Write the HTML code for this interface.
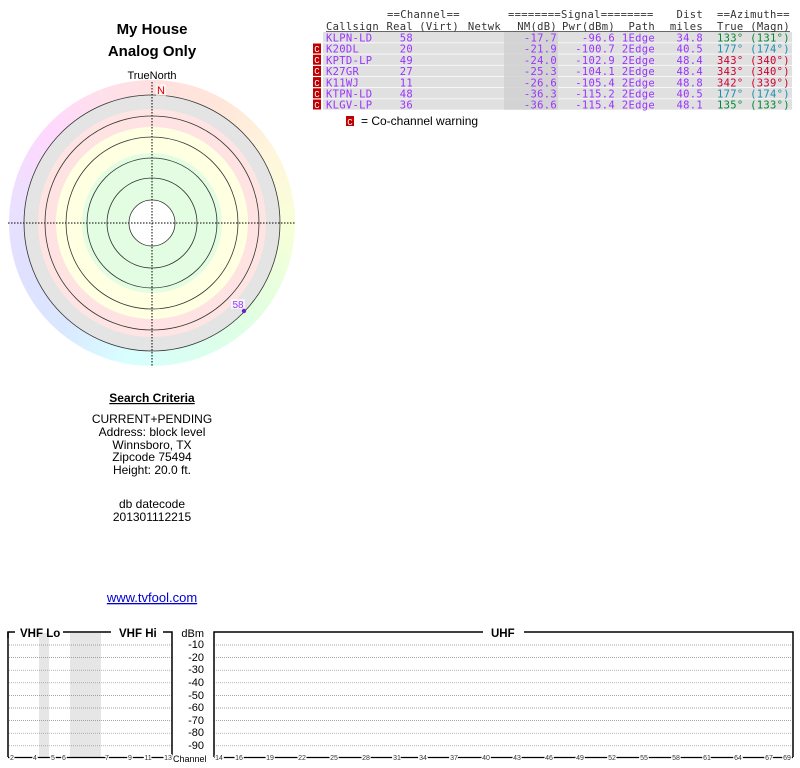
<!DOCTYPE html>
<html><head><meta charset="utf-8"><style>
body{margin:0;background:#fff;width:800px;height:768px;overflow:hidden;position:relative}
#ring{position:absolute;left:9px;top:80px;width:286px;height:286px;border-radius:50%;
background:conic-gradient(#ffe0e0 0deg,#ffe6da 30deg,#fff6dc 60deg,#f8ffd8 90deg,#e2ffe0 130deg,#daffee 160deg,#d8ffff 190deg,#dae8ff 220deg,#e0e0ff 250deg,#ece0ff 280deg,#ffd8ff 310deg,#ffe0ea 340deg,#ffe0e0 360deg)}
svg{position:absolute;left:0;top:0}
.m{font-family:"DejaVu Sans Mono","Liberation Mono",monospace;font-size:10.5px;letter-spacing:0.3px}
</style></head><body>
<div id="ring"></div>
<svg width="800" height="768" font-family="Liberation Sans, sans-serif">
<circle cx="152" cy="223" r="128" fill="#e4e4e4" stroke="#333" stroke-width="0.8"/>
<circle cx="152" cy="223" r="114" fill="#ffe4e4"/>
<circle cx="152" cy="223" r="107" fill="#ffe2e2" stroke="#333" stroke-width="0.8"/>
<circle cx="152" cy="223" r="96" fill="#ffffe2"/>
<circle cx="152" cy="223" r="86" fill="#ffffe2" stroke="#333" stroke-width="0.8"/>
<circle cx="152" cy="223" r="70" fill="#e2fde2"/>
<circle cx="152" cy="223" r="65" fill="#e2fde2" stroke="#333" stroke-width="0.8"/>
<circle cx="152" cy="223" r="45" fill="#e2fde2" stroke="#333" stroke-width="0.8"/>
<circle cx="152" cy="223" r="23" fill="#fff" stroke="#333" stroke-width="0.8"/>
<line x1="8" y1="223" x2="296" y2="223" stroke="#000" stroke-dasharray="1.5,1.5"/>
<line x1="152" y1="82" x2="152" y2="366" stroke="#000" stroke-dasharray="1.5,1.5"/>
<rect x="156" y="84" width="10" height="12" fill="#fff" opacity="0.6"/>
<text x="161" y="94" font-size="11" fill="#e00000" text-anchor="middle">N</text>
<rect x="231" y="299" width="14" height="10" fill="#fff" opacity="0.6"/>
<text x="238" y="308" font-size="10" fill="#9933ff" text-anchor="middle">58</text>
<circle cx="244" cy="311" r="2.2" fill="#7020d0"/>
<text x="152" y="34" font-size="15" font-weight="bold" text-anchor="middle">My House</text>
<text x="152" y="56" font-size="15" font-weight="bold" text-anchor="middle">Analog Only</text>
<text x="152" y="79" font-size="11" text-anchor="middle">TrueNorth</text>
<g font-size="12" text-anchor="middle">
<text x="152" y="402" font-weight="bold" text-decoration="underline">Search Criteria</text>
<text x="152" y="423">CURRENT+PENDING</text>
<text x="152" y="436">Address: block level</text>
<text x="152" y="449">Winnsboro, TX</text>
<text x="152" y="461">Zipcode 75494</text>
<text x="152" y="474">Height: 20.0 ft.</text>
<text x="152" y="508">db datecode</text>
<text x="152" y="521">201301112215</text>
<text x="152" y="602" font-size="13" fill="#0000cc" text-decoration="underline">www.tvfool.com</text>
</g>
<g fill="#e0e0e0">
<rect x="323" y="32" width="469" height="10.5"/><rect x="323" y="43.2" width="469" height="10.5"/><rect x="323" y="54.4" width="469" height="10.5"/><rect x="323" y="65.6" width="469" height="10.5"/><rect x="323" y="76.8" width="469" height="10.5"/><rect x="323" y="88" width="469" height="10.5"/><rect x="323" y="99.2" width="469" height="10.5"/>
</g>
<rect x="504" y="32" width="54" height="77.7" fill="#cfcfcf" opacity="0.8"/>
<g fill="#c00000">
<rect x="313" y="43.5" width="8" height="10"/><rect x="313" y="54.7" width="8" height="10"/><rect x="313" y="65.9" width="8" height="10"/><rect x="313" y="77.1" width="8" height="10"/><rect x="313" y="88.3" width="8" height="10"/><rect x="313" y="99.5" width="8" height="10"/>
<rect x="346" y="116" width="8" height="10"/>
</g>
<g fill="#fff" font-size="9" font-family="Liberation Mono, monospace" text-anchor="middle">
<text x="317" y="52">C</text><text x="317" y="63">C</text><text x="317" y="74">C</text><text x="317" y="86">C</text><text x="317" y="97">C</text><text x="317" y="108">C</text><text x="350" y="125">C</text>
</g>
<text x="361" y="125" font-size="12">= Co-channel warning</text>
<g class="m" fill="#333">
<text x="387" y="18">==Channel==</text>
<text x="508" y="18">========Signal========</text>
<text x="703" y="18" text-anchor="end">Dist</text>
<text x="717" y="18">==Azimuth==</text>
<g text-anchor="end">
<text x="413" y="30">Real</text><text x="459" y="30">(Virt)</text><text x="501" y="30">Netwk</text><text x="557" y="30">NM(dB)</text><text x="615" y="30">Pwr(dBm)</text><text x="655" y="30">Path</text><text x="703" y="30">miles</text><text x="790" y="30">(Magn)</text>
</g>
<text x="326" y="30">Callsign</text><text x="717" y="30">True</text>
<line x1="326" y1="31.5" x2="790" y2="31.5" stroke="#333" stroke-width="0.8"/>
</g>
<g class="m" fill="#9933ff">
<text x="326" y="41.5">KLPN-LD</text><text x="326" y="52.7">K20DL</text><text x="326" y="63.9">KPTD-LP</text><text x="326" y="75.1">K27GR</text><text x="326" y="86.3">K11WJ</text><text x="326" y="97.5">KTPN-LD</text><text x="326" y="108.7">KLGV-LP</text>
<g text-anchor="end">
<text x="413" y="41.5">58</text><text x="413" y="52.7">20</text><text x="413" y="63.9">49</text><text x="413" y="75.1">27</text><text x="413" y="86.3">11</text><text x="413" y="97.5">48</text><text x="413" y="108.7">36</text>
<text x="557" y="41.5">-17.7</text><text x="557" y="52.7">-21.9</text><text x="557" y="63.9">-24.0</text><text x="557" y="75.1">-25.3</text><text x="557" y="86.3">-26.6</text><text x="557" y="97.5">-36.3</text><text x="557" y="108.7">-36.6</text>
<text x="615" y="41.5">-96.6</text><text x="615" y="52.7">-100.7</text><text x="615" y="63.9">-102.9</text><text x="615" y="75.1">-104.1</text><text x="615" y="86.3">-105.4</text><text x="615" y="97.5">-115.2</text><text x="615" y="108.7">-115.4</text>
<text x="655" y="41.5">1Edge</text><text x="655" y="52.7">2Edge</text><text x="655" y="63.9">2Edge</text><text x="655" y="75.1">2Edge</text><text x="655" y="86.3">2Edge</text><text x="655" y="97.5">2Edge</text><text x="655" y="108.7">2Edge</text>
<text x="703" y="41.5">34.8</text><text x="703" y="52.7">40.5</text><text x="703" y="63.9">48.4</text><text x="703" y="75.1">48.4</text><text x="703" y="86.3">48.8</text><text x="703" y="97.5">40.5</text><text x="703" y="108.7">48.1</text>
</g>
</g>
<g class="m">
<text x="717" y="41.5" fill="#008833">133° (131°)</text>
<text x="717" y="52.7" fill="#1a8fb0">177° (174°)</text>
<text x="717" y="63.9" fill="#cc0033">343° (340°)</text>
<text x="717" y="75.1" fill="#cc0033">343° (340°)</text>
<text x="717" y="86.3" fill="#cc0033">342° (339°)</text>
<text x="717" y="97.5" fill="#1a8fb0">177° (174°)</text>
<text x="717" y="108.7" fill="#008833">135° (133°)</text>
</g>
<rect x="39" y="633" width="10" height="124" fill="#e6e6e6"/>
<rect x="70" y="633" width="31" height="124" fill="#e6e6e6"/>
<g stroke="#888" stroke-width="0.7" stroke-dasharray="1,1">
<line x1="9" y1="645" x2="172" y2="645"/><line x1="9" y1="657.6" x2="172" y2="657.6"/><line x1="9" y1="670.2" x2="172" y2="670.2"/><line x1="9" y1="682.8" x2="172" y2="682.8"/><line x1="9" y1="695.4" x2="172" y2="695.4"/><line x1="9" y1="708" x2="172" y2="708"/><line x1="9" y1="720.6" x2="172" y2="720.6"/><line x1="9" y1="733.2" x2="172" y2="733.2"/><line x1="9" y1="745.8" x2="172" y2="745.8"/>
<line x1="214" y1="645" x2="792" y2="645"/><line x1="214" y1="657.6" x2="792" y2="657.6"/><line x1="214" y1="670.2" x2="792" y2="670.2"/><line x1="214" y1="682.8" x2="792" y2="682.8"/><line x1="214" y1="695.4" x2="792" y2="695.4"/><line x1="214" y1="708" x2="792" y2="708"/><line x1="214" y1="720.6" x2="792" y2="720.6"/><line x1="214" y1="733.2" x2="792" y2="733.2"/><line x1="214" y1="745.8" x2="792" y2="745.8"/>
</g>
<g stroke="#000" stroke-width="1.5" fill="none">
<polyline points="8,638 8,632 15,632"/><line x1="63" y1="632" x2="111" y2="632"/><polyline points="163,632 172,632 172,757"/><line x1="8" y1="632" x2="8" y2="757"/>
<polyline points="214,757 214,632 483,632"/><polyline points="524,632 793,632 793,757"/>
<line x1="8" y1="757.5" x2="172" y2="757.5" stroke-width="1.2"/><line x1="214" y1="757.5" x2="793" y2="757.5" stroke-width="1.2"/>
</g>
<g font-size="11.5" font-weight="bold">
<text x="20" y="637">VHF Lo</text><text x="119" y="637">VHF Hi</text><text x="491" y="637">UHF</text>
</g>
<g font-size="11" text-anchor="end">
<text x="204" y="637">dBm</text><text x="204" y="648">-10</text><text x="204" y="661">-20</text><text x="204" y="673">-30</text><text x="204" y="686">-40</text><text x="204" y="699">-50</text><text x="204" y="711">-60</text><text x="204" y="724">-70</text><text x="204" y="736">-80</text><text x="204" y="749">-90</text>
</g>
<text x="173" y="762" font-size="9">Channel</text>
<g font-size="7" text-anchor="middle" stroke="#fff" stroke-width="2.5" paint-order="stroke" fill="#333">
<text x="12" y="760">2</text><text x="35" y="760">4</text><text x="53" y="760">5</text><text x="64" y="760">6</text><text x="107" y="760">7</text><text x="130" y="760">9</text><text x="148" y="760">11</text><text x="168" y="760">13</text>
<text x="219" y="760">14</text><text x="239" y="760">16</text><text x="270" y="760">19</text><text x="302" y="760">22</text><text x="334" y="760">25</text><text x="366" y="760">28</text><text x="397" y="760">31</text><text x="423" y="760">34</text><text x="454" y="760">37</text><text x="486" y="760">40</text><text x="517" y="760">43</text><text x="549" y="760">46</text><text x="580" y="760">49</text><text x="612" y="760">52</text><text x="644" y="760">55</text><text x="676" y="760">58</text><text x="707" y="760">61</text><text x="738" y="760">64</text><text x="769" y="760">67</text><text x="787" y="760">69</text>
</g>
</svg>
</body></html>
